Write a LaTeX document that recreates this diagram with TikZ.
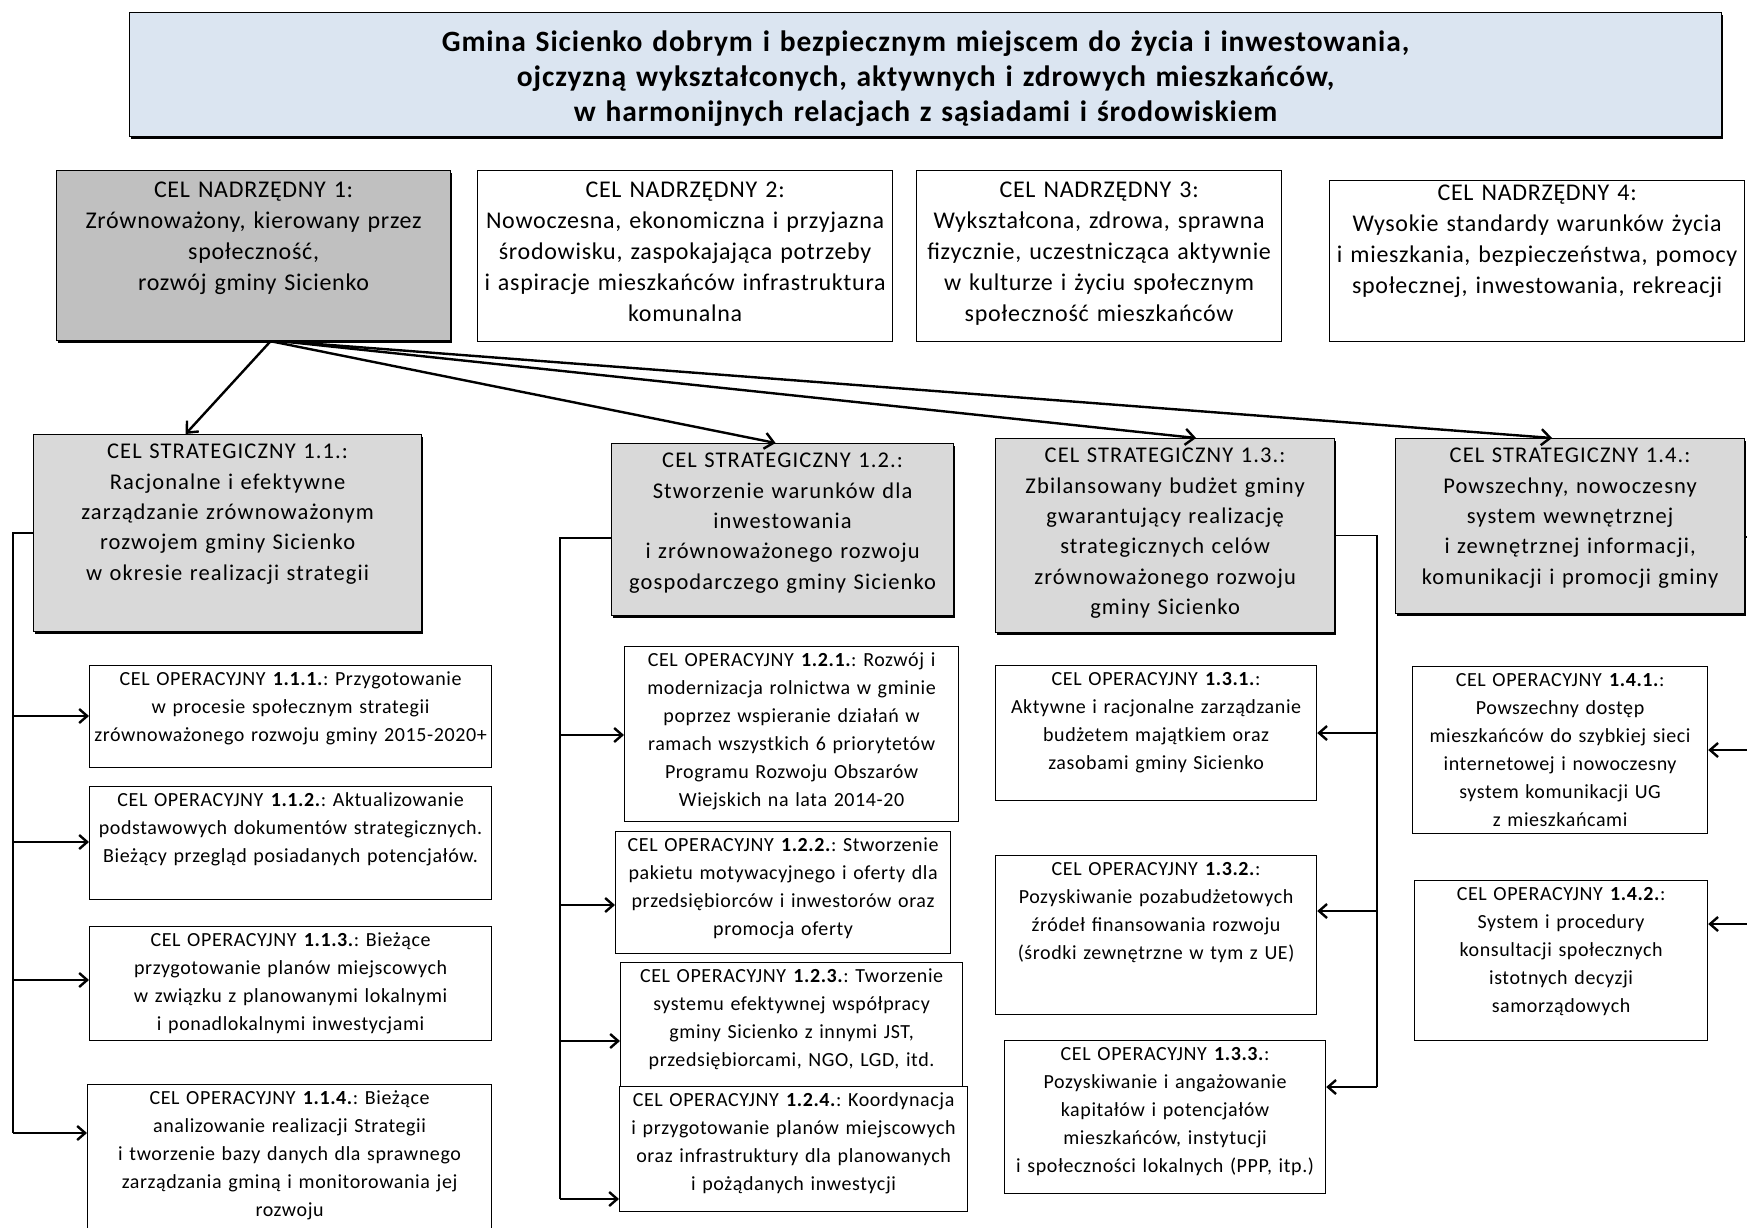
\documentclass[tikz,border=0pt]{standalone}
\usepackage{fontspec}
\setmainfont{Carlito}
\newfontfamily\visionfont[LetterSpace=3]{Carlito}
\newfontfamily\nadfont[LetterSpace=3]{Carlito}
\newfontfamily\strfont[LetterSpace=5]{Carlito}
\newfontfamily\opfont[LetterSpace=3]{Carlito}
\usetikzlibrary{arrows.meta,shadows}
\definecolor{visionblue}{HTML}{DBE5F1}
\definecolor{nadgray}{HTML}{C0C0C0}
\definecolor{strgray}{HTML}{D9D9D9}
\frenchspacing

\begin{document}
\begin{tikzpicture}[
    x=1pt, y=-1pt,
    every node/.style={draw, line width=1.2pt, anchor=north west, align=center},
    wh/.style 2 args={minimum width=#1, text width=#1-6pt, inner xsep=3pt, minimum height=#2, text depth=#2-30pt},
    shade/.style={drop shadow={shadow xshift=1.5pt, shadow yshift=-2.5pt, fill=black, opacity=1}},
    visionbox/.style={fill=visionblue, shade, inner xsep=3pt, font=\visionfont\fontsize{29.5}{35}\selectfont\bfseries},
    nadbox/.style={fill=white, inner ysep=3pt, text height=24pt, font=\nadfont\fontsize{24}{31}\selectfont},
    strbox/.style={fill=strgray, shade, inner ysep=6pt, text height=18pt, font=\strfont\fontsize{22.5}{30.4}\selectfont},
    opbox/.style={fill=white, inner ysep=10pt, text height=10pt, font=\opfont\fontsize{20}{28}\selectfont},
    link/.style={line width=2.4pt, -{Straight Barb[length=9pt, width=16pt]}},
    bus/.style={line width=1.6pt},
    feed/.style={line width=2.4pt, -{Straight Barb[length=8pt, width=14pt]}},
]
    \useasboundingbox (0,0) rectangle (1747,1227);

    \node[visionbox, minimum width=1592, text width=1586, inner ysep=4pt, text height=35pt, text depth=81pt] (vision) at (129,12) {Gmina Sicienko dobrym i bezpiecznym miejscem do życia i inwestowania,\\ ojczyzną wykształconych, aktywnych i zdrowych mieszkańców,\\ w harmonijnych relacjach z sąsiadami i środowiskiem};

    \node[nadbox, fill=nadgray, shade, wh={394}{170}] (n1) at (56,170) {CEL NADRZĘDNY 1:\\ Zrównoważony, kierowany przez\\ społeczność,\\ rozwój gminy Sicienko};
    \node[nadbox, wh={415}{171}] (n2) at (477,170) {CEL NADRZĘDNY 2:\\ Nowoczesna, ekonomiczna i przyjazna\\ środowisku, zaspokajająca potrzeby\\ i aspiracje mieszkańców infrastruktura\\ komunalna};
    \node[nadbox, wh={365}{171}] (n3) at (916,170) {CEL NADRZĘDNY 3:\\ Wykształcona, zdrowa, sprawna\\ fizycznie, uczestnicząca aktywnie\\ w kulturze i życiu społecznym\\ społeczność mieszkańców};
    \node[nadbox, wh={415}{161}, inner ysep=10pt, text height=10pt] (n4) at (1329,180) {CEL NADRZĘDNY 4:\\ Wysokie standardy warunków życia\\ i mieszkania, bezpieczeństwa, pomocy\\ społecznej, inwestowania, rekreacji};

    \node[strbox, wh={388}{197}] (s11) at (33,434) {CEL STRATEGICZNY 1.1.:\\ Racjonalne i efektywne\\ zarządzanie zrównoważonym\\ rozwojem gminy Sicienko\\ w okresie realizacji strategii};
    \node[strbox, wh={342}{172}] (s12) at (611,443) {CEL STRATEGICZNY 1.2.:\\ Stworzenie warunków dla\\ inwestowania\\ i zrównoważonego rozwoju\\ gospodarczego gminy Sicienko};
    \node[strbox, wh={339}{194}] (s13) at (995,438) {CEL STRATEGICZNY 1.3.:\\ Zbilansowany budżet gminy\\ gwarantujący realizację\\ strategicznych celów\\ zrównoważonego rozwoju\\ gminy Sicienko};
    \node[strbox, wh={349}{175}] (s14) at (1395,438) {CEL STRATEGICZNY 1.4.:\\ Powszechny, nowoczesny\\ system wewnętrznej\\ i zewnętrznej informacji,\\ komunikacji i promocji gminy};

    \node[opbox, wh={402}{102}] (o111) at (89,665) {CEL OPERACYJNY \textbf{1.1.1.}: Przygotowanie\\ w procesie społecznym strategii\\ zrównoważonego rozwoju gminy 2015-2020+};
    \node[opbox, wh={402}{113}] (o112) at (89,786) {CEL OPERACYJNY \textbf{1.1.2.}: Aktualizowanie\\ podstawowych dokumentów strategicznych.\\ Bieżący przegląd posiadanych potencjałów.};
    \node[opbox, wh={402}{114}] (o113) at (89,926) {CEL OPERACYJNY \textbf{1.1.3.}: Bieżące\\ przygotowanie planów miejscowych\\ w związku z planowanymi lokalnymi\\ i ponadlokalnymi inwestycjami};
    \node[opbox, wh={404}{150}] (o114) at (87,1084) {CEL OPERACYJNY \textbf{1.1.4.}: Bieżące\\ analizowanie realizacji Strategii\\ i tworzenie bazy danych dla sprawnego\\ zarządzania gminą i monitorowania jej\\ rozwoju};

    \node[opbox, wh={334}{175}] (o121) at (624,646) {CEL OPERACYJNY \textbf{1.2.1.}: Rozwój i\\ modernizacja rolnictwa w gminie\\ poprzez wspieranie działań w\\ ramach wszystkich 6 priorytetów\\ Programu Rozwoju Obszarów\\ Wiejskich na lata 2014-20};
    \node[opbox, wh={335}{122}] (o122) at (615,831) {CEL OPERACYJNY \textbf{1.2.2.}: Stworzenie\\ pakietu motywacyjnego i oferty dla\\ przedsiębiorców i inwestorów oraz\\ promocja oferty};
    \node[opbox, wh={342}{124}] (o123) at (620,962) {CEL OPERACYJNY \textbf{1.2.3.}: Tworzenie\\ systemu efektywnej współpracy\\ gminy Sicienko z innymi JST,\\ przedsiębiorcami, NGO, LGD, itd.};
    \node[opbox, wh={348}{125}] (o124) at (619,1086) {CEL OPERACYJNY \textbf{1.2.4.}: Koordynacja\\ i przygotowanie planów miejscowych\\ oraz infrastruktury dla planowanych\\ i pożądanych inwestycji};

    \node[opbox, wh={321}{135}] (o131) at (995,665) {CEL OPERACYJNY \textbf{1.3.1.}:\\ Aktywne i racjonalne zarządzanie\\ budżetem majątkiem oraz\\ zasobami gminy Sicienko};
    \node[opbox, wh={321}{159}] (o132) at (995,855) {CEL OPERACYJNY \textbf{1.3.2.}:\\ Pozyskiwanie pozabudżetowych\\ źródeł finansowania rozwoju\\ (środki zewnętrzne w tym z UE)};
    \node[opbox, wh={321}{153}] (o133) at (1004,1040) {CEL OPERACYJNY \textbf{1.3.3.}:\\ Pozyskiwanie i angażowanie\\ kapitałów i potencjałów\\ mieszkańców, instytucji\\ i społeczności lokalnych (PPP, itp.)};

    \node[opbox, wh={295}{167}] (o141) at (1412,666) {CEL OPERACYJNY \textbf{1.4.1.}:\\ Powszechny dostęp\\ mieszkańców do szybkiej sieci\\ internetowej i nowoczesny\\ system komunikacji UG\\ z mieszkańcami};
    \node[opbox, wh={293}{160}] (o142) at (1414,880) {CEL OPERACYJNY \textbf{1.4.2.}:\\ System i procedury\\ konsultacji społecznych\\ istotnych decyzji\\ samorządowych};

    \draw[link] ([xshift=17pt]n1.south) -- ([xshift=-42pt]s11.north);
    \draw[link] ([xshift=17pt]n1.south) -- ([xshift=-7pt]s12.north);
    \draw[link] ([xshift=27pt]n1.south) -- ([xshift=31pt]s13.north);
    \draw[link] ([xshift=27pt]n1.south) -- ([xshift=-18pt]s14.north);

    \coordinate (bus1) at (13,1133);
    \coordinate (bus2) at (560,1199);
    \coordinate (bus3) at (1377,1087);
    \coordinate (edge4) at (1747,537);

    \draw[bus] (s11.west) -| (bus1);
    \foreach \n/\y in {o111/716, o112/842, o113/980, o114/1133}
        \draw[feed] (bus1 |- 0,\y) -- (\n.west |- 0,\y);

    \draw[bus] (s12.west |- 0,538) -| (bus2);
    \foreach \n/\y in {o121/735, o122/905, o123/1041, o124/1199}
        \draw[feed] (bus2 |- 0,\y) -- (\n.west |- 0,\y);

    \draw[bus] (s13.east) -| (bus3);
    \foreach \n/\y in {o131/733, o132/911, o133/1087}
        \draw[feed] (bus3 |- 0,\y) -- (\n.east |- 0,\y);

    \draw[bus] (s14.east |- edge4) -- (edge4);
    \foreach \n/\y in {o141/750, o142/924}
        \draw[feed] (edge4 |- 0,\y) -- (\n.east |- 0,\y);
\end{tikzpicture}
\end{document}
